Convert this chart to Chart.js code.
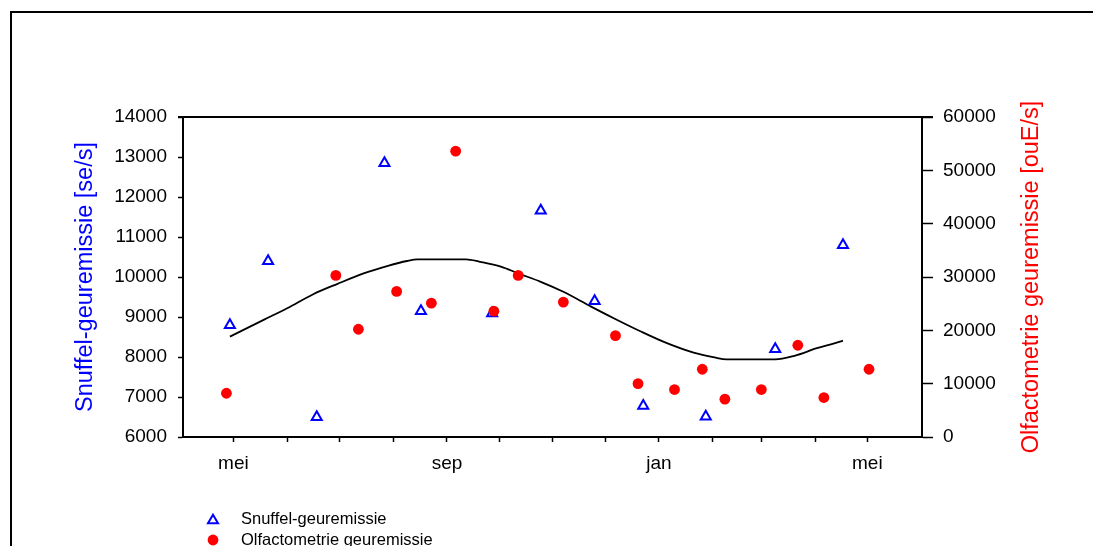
<!DOCTYPE html>
<html>
<head>
<meta charset="utf-8">
<script src="https://cdn.jsdelivr.net/npm/chart.js@4/dist/chart.umd.min.js"></script>
<style>
  html, body { margin: 0; padding: 0; background: #fff; overflow: hidden; }
  #wrap { position: relative; width: 1093px; height: 546px; overflow: hidden; }
  #frame { position: absolute; left: 10px; top: 11px; width: 1200px; height: 700px;
           border: 2px solid #000; box-sizing: border-box; pointer-events: none; }
  canvas { position: absolute; left: 0; top: 0; }
</style>
</head>
<body>
<div id="wrap">
  <canvas id="c" width="1093" height="546"></canvas>
  <div id="frame"></div>
</div>
<script>
// Month boundaries, counted in days from 1 May
const monthStartDays = [0, 31, 61, 92, 123, 153, 184, 214, 245, 276, 304, 335, 365];
const monthLabels    = ['mei', '', '', '', 'sep', '', '', '', 'jan', '', '', '', 'mei'];

// Snuffel measurements [se/s]
const snuffelDays   = [-2, 20, 48, 87, 108, 149, 177, 208, 236, 272, 312, 351];
const snuffelValues = [8800, 10400, 6500, 12850, 9150, 9090, 11660, 9400, 6780, 6510, 8200, 10800];

// Olfactometry measurements [ouE/s]
const olfactoDays   = [-4, 59, 72, 94, 114, 128, 150, 164, 190, 220, 233, 254, 270, 283, 304, 325, 340, 366];
const olfactoValues = [8200, 30300, 20200, 27300, 25100, 53600, 23600, 30300, 25300, 19000, 10000, 8900, 12700, 7100, 8900, 17200, 7400, 12700];

// Seasonal trend of the snuffel emission [se/s]
const trendDays   = [-2, 18, 31, 46, 60, 75, 89, 100, 106, 134, 142, 154, 164, 177, 190, 206, 219, 235, 250, 265, 277, 284, 312, 323, 336, 346, 351];
const trendValues = [8510, 8940, 9220, 9570, 9830, 10090, 10280, 10400, 10440, 10440, 10380, 10260, 10090, 9880, 9630, 9260, 8970, 8630, 8340, 8110, 7990, 7940, 7940, 8030, 8220, 8340, 8410];

const leftTitle  = 'Snuffel-geuremissie [se/s]';
const rightTitle = 'Olfactometrie geuremissie [ouE/s]';
const snuffelLabel = 'Snuffel-geuremissie';
const olfactoLabel = 'Olfactometrie geuremissie';

const FONT = '"Liberation Sans", Arial, Helvetica, sans-serif';
const TITLE_SIZE = 23.5;
Chart.defaults.font.family = FONT;
Chart.defaults.color = '#000';

const toPoints = (xs, ys) => xs.map((x, i) => ({ x: x, y: ys[i] }));
const plainNumber = (v) => String(v);

// Top edge of the plot frame, right-hand axis title (reading upwards) and the legend
const decorations = {
  id: 'decorations',
  afterDraw(chart) {
    const { ctx, chartArea } = chart;
    ctx.save();
    // frame top
    ctx.strokeStyle = '#000';
    ctx.lineWidth = 2;
    ctx.beginPath();
    ctx.moveTo(chartArea.left - 5, chartArea.top);
    ctx.lineTo(chartArea.right + 11, chartArea.top);
    ctx.stroke();

    // right axis title
    ctx.fillStyle = '#ff0000';
    ctx.font = TITLE_SIZE + 'px ' + FONT;
    ctx.textAlign = 'center';
    ctx.textBaseline = 'middle';
    ctx.translate(1031.5, (chartArea.top + chartArea.bottom) / 2);
    ctx.rotate(-Math.PI / 2);
    ctx.fillText(rightTitle, 0, 0);
    ctx.restore();

    // legend
    ctx.save();
    const mx = 213, tx = 241, rows = [519, 540];
    const items = [
      { ds: chart.data.datasets[1], text: snuffelLabel },
      { ds: chart.data.datasets[0], text: olfactoLabel }
    ];
    items.forEach((it, i) => {
      const y = rows[i];
      const r = it.ds.pointRadius;
      ctx.beginPath();
      if (it.ds.pointStyle === 'triangle') {
        const cy = y + r / 4;
        for (let k = 0; k < 3; k++) {
          const a = k * 2 * Math.PI / 3;
          const px = mx + Math.sin(a) * r, py = cy - Math.cos(a) * r;
          if (k === 0) ctx.moveTo(px, py); else ctx.lineTo(px, py);
        }
        ctx.closePath();
        ctx.strokeStyle = it.ds.pointBorderColor;
        ctx.lineWidth = it.ds.pointBorderWidth;
        ctx.stroke();
      } else {
        ctx.arc(mx, y, r, 0, Math.PI * 2);
        ctx.fillStyle = it.ds.pointBackgroundColor;
        ctx.fill();
      }
      ctx.fillStyle = '#000';
      ctx.font = '16.5px ' + FONT;
      ctx.textAlign = 'left';
      ctx.textBaseline = 'middle';
      ctx.fillText(it.text, tx, y);
    });
    ctx.restore();
  }
};

new Chart(document.getElementById('c'), {
  type: 'scatter',
  data: {
    datasets: [
      {
        label: olfactoLabel,
        data: toPoints(olfactoDays, olfactoValues),
        yAxisID: 'y2',
        pointStyle: 'circle',
        pointRadius: 5.4,
        pointBackgroundColor: '#ff0000',
        pointBorderColor: '#ff0000',
        pointBorderWidth: 0,
        showLine: false,
        order: 1
      },
      {
        label: snuffelLabel,
        data: toPoints(snuffelDays, snuffelValues),
        yAxisID: 'y',
        pointStyle: 'triangle',
        pointRadius: 5.8,
        pointBackgroundColor: 'rgba(255,255,255,0)',
        pointBorderColor: '#0000ff',
        pointBorderWidth: 2,
        showLine: false,
        order: 2
      },
      {
        label: 'trend',
        data: toPoints(trendDays, trendValues),
        yAxisID: 'y',
        showLine: true,
        borderColor: '#000',
        borderWidth: 1.8,
        pointRadius: 0,
        cubicInterpolationMode: 'monotone',
        fill: false,
        order: 3
      }
    ]
  },
  options: {
    responsive: false,
    animation: false,
    devicePixelRatio: 1,
    layout: { padding: { top: 117, left: 0, right: 0, bottom: 0 } },
    plugins: { legend: { display: false }, tooltip: { enabled: false } },
    scales: {
      x: {
        type: 'linear',
        min: -29,
        max: 396.5,
        afterBuildTicks: (s) => {
          s.ticks = monthStartDays.filter(d => d >= s.min && d <= s.max).map(v => ({ value: v }));
        },
        afterFit: (s) => { s.height = 109; },
        grid: { drawOnChartArea: false, drawTicks: true, tickLength: 5, tickColor: '#000', tickWidth: 1.5 },
        border: { display: true, color: '#000', width: 2 },
        ticks: {
          autoSkip: false, maxRotation: 0, minRotation: 0, padding: 10, color: '#000',
          font: { size: 19 },
          callback: (v) => { const i = monthStartDays.indexOf(v); return i >= 0 ? monthLabels[i] : ''; }
        }
      },
      y: {
        position: 'left',
        min: 6000,
        max: 14000,
        afterFit: (s) => { s.width = 183; },
        grid: { drawOnChartArea: false, drawTicks: true, tickLength: 5, tickColor: '#000', tickWidth: 1.5 },
        border: { display: true, color: '#000', width: 2 },
        ticks: { stepSize: 1000, padding: 11, color: '#000', font: { size: 19 }, callback: plainNumber },
        title: {
          display: true, text: leftTitle, color: '#0000ff',
          font: { size: TITLE_SIZE }, padding: { top: 71, bottom: 0 }
        }
      },
      y2: {
        position: 'right',
        min: 0,
        max: 60000,
        afterFit: (s) => { s.width = 171; },
        grid: { drawOnChartArea: false, drawTicks: true, tickLength: 11, tickColor: '#000', tickWidth: 1.5 },
        border: { display: true, color: '#000', width: 2 },
        ticks: { stepSize: 10000, padding: 10, color: '#000', font: { size: 19 }, callback: plainNumber }
      }
    }
  },
  plugins: [decorations]
});
</script>
</body>
</html>
